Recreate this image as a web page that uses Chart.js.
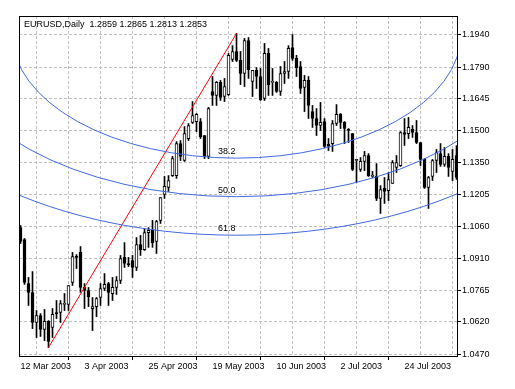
<!DOCTYPE html>
<html>
<head>
<meta charset="utf-8">
<style>
  html, body { margin: 0; padding: 0; background: #fff; }
  #wrap { width: 515px; height: 389px; }
</style>
<script src="https://cdn.jsdelivr.net/npm/chart.js@4.4.0/dist/chart.umd.min.js"></script>
</head>
<body>
<div id="wrap"><canvas id="chart" width="515" height="389"></canvas></div>
<script>
// EURUSD daily, one bar per weekday starting 12 Mar 2003
const opens = [1.1053,1.0998,1.0796,1.0755,1.0617,1.0649,1.0585,1.0622,1.0594,1.0663,
  1.0663,1.0700,1.0700,1.0801,1.0920,1.0939,1.0778,1.0764,1.0681,1.0690,
  1.0732,1.0773,1.0796,1.0750,1.0778,1.0810,1.0916,1.0888,1.0902,1.0870,
  1.0975,1.0952,1.1030,1.1044,1.0989,1.1086,1.1205,1.1237,1.1292,1.1292,
  1.1439,1.1361,1.1462,1.1536,1.1540,1.1540,1.1476,1.1380,1.1678,1.1660,
  1.1720,1.1655,1.1664,1.1825,1.1862,1.1821,1.1761,1.1912,1.1724,1.1775,
  1.1747,1.1646,1.1853,1.1720,1.1720,1.1678,1.1761,1.1770,1.1880,1.1830,
  1.1793,1.1697,1.1729,1.1586,1.1554,1.1522,1.1540,1.1435,1.1439,1.1531,
  1.1573,1.1536,1.1504,1.1485,1.1361,1.1320,1.1357,1.1384,1.1288,1.1288,
  1.1187,1.1233,1.1223,1.1256,1.1329,1.1338,1.1490,1.1485,1.1504,1.1490,
  1.1444,1.1366,1.1237,1.1288,1.1361,1.1393,1.1343,1.1380,1.1311,1.1384];
const highs = [1.1063,1.1003,1.0824,1.0851,1.0672,1.0658,1.0677,1.0626,1.0681,1.0718,
  1.0718,1.0750,1.0787,1.0939,1.0929,1.0966,1.0796,1.0778,1.0732,1.0732,
  1.0796,1.0842,1.0801,1.0824,1.0828,1.0925,1.0984,1.0916,1.0925,1.1007,
  1.1017,1.1049,1.1053,1.1086,1.1086,1.1191,1.1288,1.1292,1.1380,1.1448,
  1.1453,1.1517,1.1531,1.1632,1.1577,1.1554,1.1476,1.1605,1.1747,1.1724,
  1.1729,1.1738,1.1853,1.1889,1.1945,1.1862,1.1922,1.1926,1.1775,1.1788,
  1.1784,1.1899,1.1876,1.1784,1.1724,1.1793,1.1816,1.1889,1.1940,1.1844,
  1.1816,1.1752,1.1747,1.1614,1.1600,1.1628,1.1554,1.1462,1.1545,1.1618,
  1.1577,1.1540,1.1508,1.1485,1.1366,1.1375,1.1403,1.1393,1.1311,1.1347,
  1.1246,1.1283,1.1306,1.1361,1.1384,1.1494,1.1554,1.1559,1.1522,1.1545,
  1.1444,1.1370,1.1288,1.1366,1.1412,1.1439,1.1421,1.1393,1.1412,1.1430];
const lows = [1.0980,1.0792,1.0695,1.0589,1.0548,1.0553,1.0534,1.0502,1.0548,1.0635,
  1.0617,1.0672,1.0672,1.0787,1.0865,1.0755,1.0681,1.0690,1.0580,1.0644,
  1.0695,1.0764,1.0695,1.0718,1.0746,1.0796,1.0870,1.0874,1.0824,1.0856,
  1.0925,1.0948,1.0962,1.0962,1.0934,1.1072,1.1187,1.1219,1.1288,1.1279,
  1.1361,1.1357,1.1453,1.1531,1.1494,1.1462,1.1370,1.1370,1.1614,1.1614,
  1.1637,1.1632,1.1660,1.1816,1.1816,1.1710,1.1701,1.1738,1.1655,1.1692,
  1.1637,1.1637,1.1660,1.1660,1.1674,1.1660,1.1715,1.1738,1.1821,1.1747,
  1.1669,1.1586,1.1554,1.1513,1.1476,1.1499,1.1421,1.1407,1.1403,1.1522,
  1.1508,1.1439,1.1444,1.1315,1.1260,1.1311,1.1315,1.1288,1.1283,1.1177,
  1.1118,1.1164,1.1177,1.1256,1.1306,1.1334,1.1430,1.1462,1.1467,1.1439,
  1.1338,1.1233,1.1141,1.1269,1.1306,1.1334,1.1334,1.1288,1.1269,1.1274];
const closes = [1.0989,1.0801,1.0755,1.0617,1.0649,1.0585,1.0622,1.0530,1.0654,1.0658,
  1.0704,1.0704,1.0787,1.0920,1.0916,1.0778,1.0764,1.0736,1.0690,1.0727,
  1.0773,1.0792,1.0755,1.0778,1.0810,1.0911,1.0888,1.0883,1.0870,1.0975,
  1.0952,1.1030,1.1040,1.0984,1.1081,1.1191,1.1242,1.1269,1.1370,1.1439,
  1.1380,1.1485,1.1522,1.1568,1.1573,1.1471,1.1380,1.1600,1.1660,1.1720,
  1.1651,1.1701,1.1844,1.1862,1.1821,1.1761,1.1912,1.1779,1.1775,1.1747,
  1.1641,1.1853,1.1710,1.1720,1.1678,1.1761,1.1770,1.1876,1.1830,1.1788,
  1.1692,1.1729,1.1614,1.1554,1.1522,1.1536,1.1426,1.1426,1.1531,1.1573,
  1.1536,1.1508,1.1499,1.1320,1.1366,1.1357,1.1384,1.1292,1.1288,1.1187,
  1.1228,1.1219,1.1274,1.1352,1.1352,1.1490,1.1481,1.1513,1.1490,1.1444,
  1.1366,1.1237,1.1283,1.1361,1.1398,1.1343,1.1380,1.1329,1.1366,1.1283];

const yTicks = [1.0470,1.0620,1.0765,1.0910,1.1060,1.1205,1.1350,1.1500,1.1645,1.1790,1.1940];
const xTickBars = [0,8,16,24,32,40,48,56,64,72,80,88,96,104];

// trend line (bar index, price) and fibonacci arcs around its end point
const trendBars = [7, 54];
const trendPrices = [1.0502, 1.1945];
const fibLevels = [38.2, 50.0, 61.8];
const arcUnitPrice = 0.150;   // vertical radius of a 100% arc
const arcUnitBars = 147;      // horizontal radius of a 100% arc

const titleText = 'EURUSD,Daily  1.2859 1.2865 1.2813 1.2853';

const months = ['Jan','Feb','Mar','Apr','May','Jun','Jul','Aug','Sep','Oct','Nov','Dec'];
const dates = [];
let d = new Date(Date.UTC(2003, 2, 12));
while (dates.length < opens.length) {
  const wd = d.getUTCDay();
  if (wd > 0 && wd < 6) dates.push(d.getUTCDate() + ' ' + months[d.getUTCMonth()] + ' ' + d.getUTCFullYear());
  d.setUTCDate(d.getUTCDate() + 1);
}

const FONT = '"Liberation Sans", Arial, sans-serif';

const overlay = {
  id: 'overlay',
  afterDatasetsDraw(chart) {
    const ctx = chart.ctx, a = chart.chartArea;
    const xs = chart.scales.x, ys = chart.scales.y;
    const cx = xs.getPixelForValue(trendBars[1]);
    const cy = ys.getPixelForValue(trendPrices[1]);
    ctx.save();
    ctx.beginPath();
    ctx.rect(a.left, a.top, a.right - a.left, a.bottom - a.top);
    ctx.clip();
    ctx.strokeStyle = '#4169e1';
    ctx.lineWidth = 1;
    ctx.fillStyle = '#000';
    ctx.font = '9px ' + FONT;
    ctx.textAlign = 'right';
    ctx.textBaseline = 'alphabetic';
    fibLevels.forEach(l => {
      const f = l / 100;
      const rx = xs.getPixelForValue(trendBars[1] + f * arcUnitBars) - cx;
      const ry = ys.getPixelForValue(trendPrices[1] - f * arcUnitPrice) - cy;
      ctx.beginPath();
      ctx.ellipse(cx, cy, rx, ry, 0, 0, Math.PI);
      ctx.stroke();
      ctx.fillText(l.toFixed(1), cx - 1, cy + ry - 4);
    });
    ctx.restore();
  },
  afterDraw(chart) {
    const ctx = chart.ctx, a = chart.chartArea;
    ctx.save();
    ctx.strokeStyle = '#000';
    ctx.lineWidth = 1;
    ctx.strokeRect(Math.round(a.left) + 0.5, Math.round(a.top) + 0.5,
      Math.round(a.right - a.left), Math.round(a.bottom - a.top));
    ctx.fillStyle = '#000';
    ctx.font = '9px ' + FONT;
    ctx.textAlign = 'left';
    ctx.textBaseline = 'alphabetic';
    ctx.fillText(titleText, a.left + 5, a.top + 11);
    ctx.restore();
  }
};

new Chart(document.getElementById('chart'), {
  type: 'bar',
  data: {
    datasets: [
      {
        type: 'line',
        data: trendBars.map((b, i) => ({ x: b, y: trendPrices[i] })),
        borderColor: '#ff0000',
        borderWidth: 1,
        pointRadius: 0,
        order: 0
      },
      {
        data: opens.map((o, i) => ({ x: i, y: [o, closes[i]] })),
        backgroundColor: ctx => closes[ctx.dataIndex] >= opens[ctx.dataIndex] ? '#ffffff' : '#000000',
        borderColor: '#000',
        borderWidth: 1,
        borderSkipped: false,
        barThickness: 3,
        minBarLength: 1,
        grouped: false,
        order: 1
      },
      {
        data: highs.map((h, i) => ({ x: i, y: [lows[i], h] })),
        backgroundColor: '#000',
        borderWidth: 0,
        barThickness: 1,
        grouped: false,
        order: 2
      }
    ]
  },
  options: {
    responsive: false,
    animation: false,
    events: [],
    layout: { padding: { left: 19, top: 16, right: 0, bottom: 0 } },
    plugins: { legend: { display: false }, tooltip: { enabled: false } },
    scales: {
      x: {
        type: 'linear',
        offset: false,
        min: -0.375,
        max: 109.125,
        afterFit: s => { s.height = 33; },
        afterBuildTicks: s => { s.ticks = xTickBars.map(v => ({ value: v })); },
        border: { display: false, dash: [3, 2] },
        grid: {
          color: c => (c.tick && c.tick.value === 0) ? 'rgba(0,0,0,0)' : '#c0c0c0',
          tickColor: c => (c.tick && c.tick.value % 16 === 0) ? '#000' : 'rgba(0,0,0,0)',
          tickLength: 4
        },
        ticks: {
          autoSkip: false,
          maxRotation: 0,
          align: 'start',
          padding: 1,
          color: '#000',
          font: { family: FONT, size: 9 },
          callback: v => (v % 16 === 0 ? dates[v] : '')
        }
      },
      y: {
        type: 'linear',
        position: 'right',
        min: 1.046311,
        max: 1.202498,
        afterFit: s => { s.width = 58; },
        afterBuildTicks: s => { s.ticks = yTicks.map(v => ({ value: v })); },
        border: { display: false, dash: [3, 2] },
        grid: { color: '#c0c0c0', tickColor: '#000', tickLength: 4 },
        ticks: {
          padding: 1,
          color: '#000',
          font: { family: FONT, size: 9 },
          callback: v => v.toFixed(4)
        }
      }
    }
  },
  plugins: [overlay]
});
</script>
</body>
</html>
